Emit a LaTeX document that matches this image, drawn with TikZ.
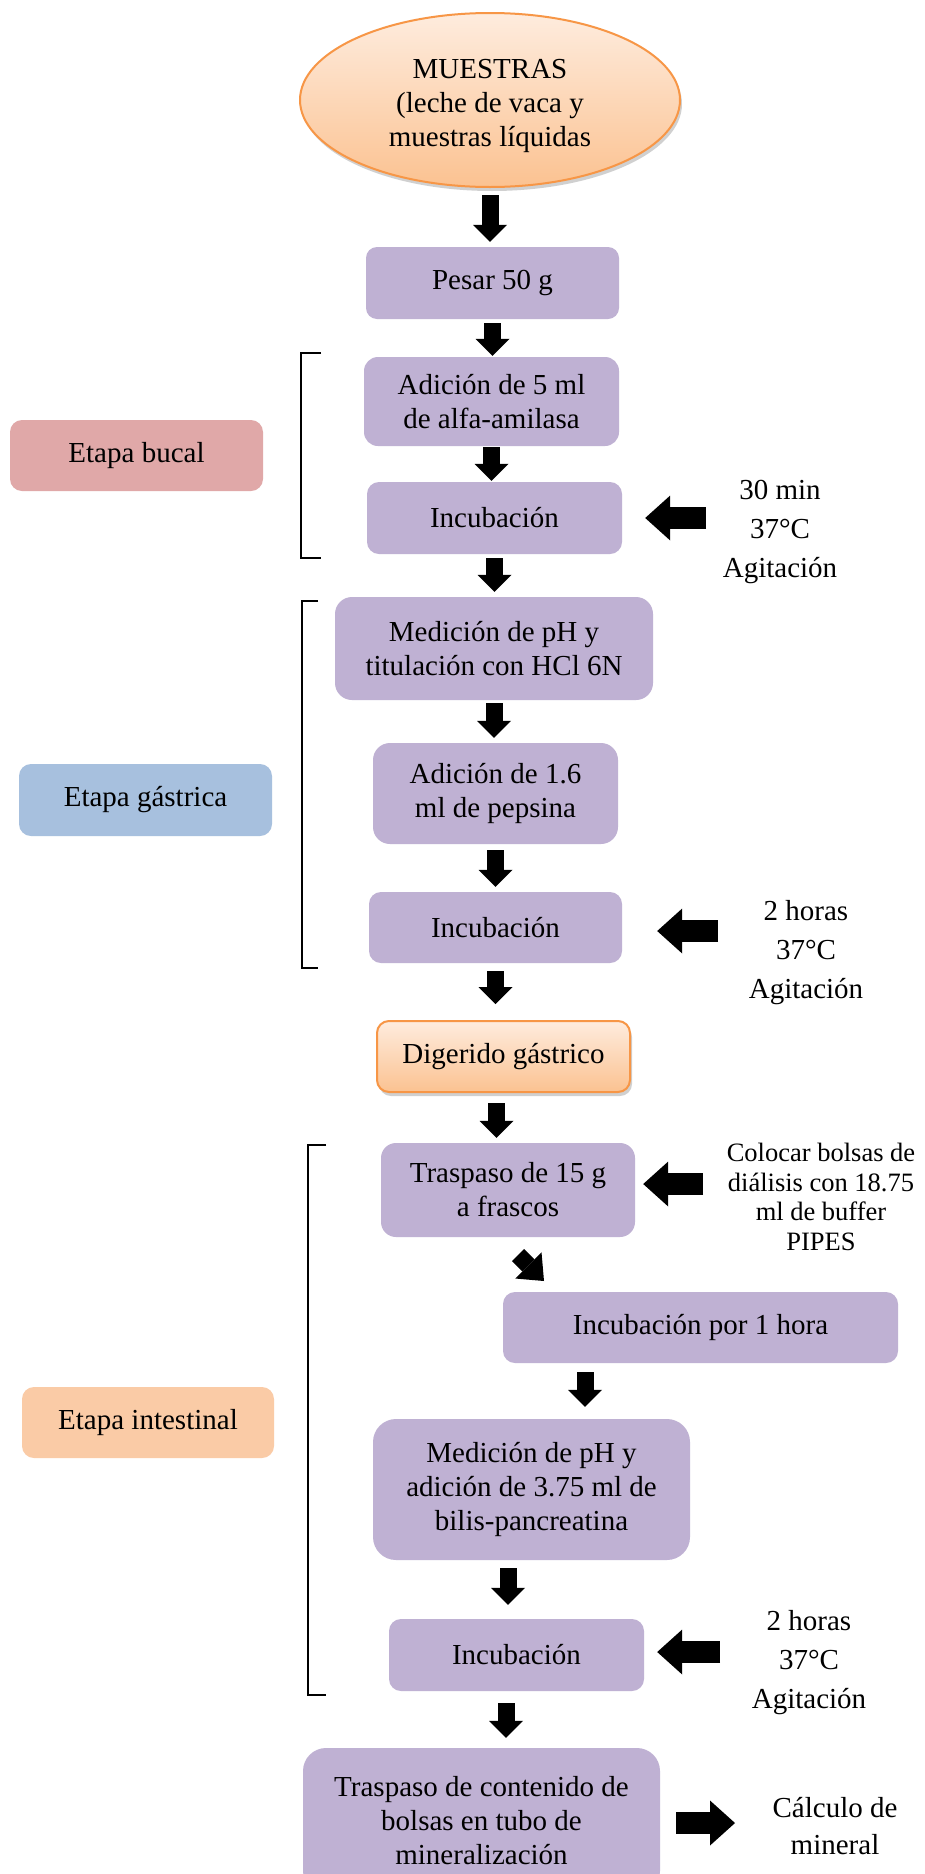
\documentclass[tikz,border=0pt]{standalone}
\usepackage{fontspec}
\setmainfont{Liberation Serif}
\usetikzlibrary{shapes.geometric,arrows.meta,shadows,calc}
\definecolor{lav}{RGB}{191,177,211}
\definecolor{bucal}{RGB}{224,168,168}
\definecolor{gastr}{RGB}{167,192,222}
\definecolor{intes}{RGB}{250,203,166}
\definecolor{orbord}{RGB}{247,150,70}
\definecolor{ortop}{RGB}{254,236,222}
\definecolor{orbot}{RGB}{251,194,145}
\newcommand\mainfs{\fontsize{29}{34}\selectfont}
\tikzset{
  proc/.style={fill=lav, draw=none, align=center, inner sep=0pt, font=\mainfs},
  etapa/.style={draw=none, align=center, inner sep=0pt, font=\mainfs,
    minimum width=253pt, minimum height=71pt, rounded corners=12pt},
  orshade/.style={draw=orbord, line width=2pt, top color=ortop, bottom color=orbot,
    drop shadow={shadow xshift=2pt, shadow yshift=-4pt, opacity=0.3, fill=black!60}},
  side/.style={align=center, inner sep=0pt, font=\fontsize{29}{39}\selectfont},
  sidesm/.style={align=center, inner sep=0pt, font=\fontsize{26.5}{29.5}\selectfont},
  dn/.style={line width=17pt, -{Triangle[length=17pt,width=34pt,line width=0pt]}},
  lf/.style={line width=22pt, -{Triangle[length=25pt,width=45pt,line width=0pt]}},
  dg/.style={line width=17pt, -{Triangle[length=22pt,width=37pt,line width=0pt]}},
  brk/.style={line width=2.2pt, black}
}
\begin{document}
\begin{tikzpicture}[x=1pt,y=-1pt]
\clip (0,0) rectangle (924,1874);
\fill[white] (0,0) rectangle (924,1874);

% main column
\node[ellipse, orshade, minimum width=380pt, minimum height=174pt, inner sep=0pt] (mues) at (490,100) {};
\node[align=center, inner sep=0pt, font=\mainfs] (muestxt) at (490,106) {MUESTRAS\\(leche de vaca y\\muestras líquidas};
\node[proc, minimum width=253pt, minimum height=72pt, rounded corners=11pt] (pesar) at (492.5,283) {Pesar 50 g};
\node[proc, minimum width=255pt, minimum height=89pt, rounded corners=14pt] (adic5) at (491.5,401.5) {Adición de 5 ml\\de alfa-amilasa};
\node[proc, minimum width=255pt, minimum height=72pt, rounded corners=12pt] (inc1) at (494.5,518) {Incubación};
\node[proc, minimum width=318pt, minimum height=103pt, rounded corners=17pt] (medph) at (494,648.5) {Medición de pH y\\titulación con HCl 6N};
\node[proc, minimum width=245pt, minimum height=101pt, rounded corners=17pt] (adic16) at (495.5,793.5) {Adición de 1.6\\ml de pepsina};
\node[proc, minimum width=253pt, minimum height=71pt, rounded corners=12pt] (inc2) at (495.5,927.5) {Incubación};
\node[orshade, align=center, inner sep=0pt, font=\mainfs, minimum width=253pt, minimum height=71pt,
  rounded corners=12pt] (dig) at (503.5,1056.5) {Digerido gástrico};
\node[proc, minimum width=254pt, minimum height=94pt, rounded corners=15pt] (tr15) at (508,1190) {Traspaso de 15 g\\a frascos};
\node[proc, minimum width=395pt, minimum height=71pt, rounded corners=12pt] (inc1h) at (700.5,1327.5) {Incubación por 1 hora};
\node[proc, minimum width=317pt, minimum height=141pt, rounded corners=23pt] (med375) at (531.5,1489.5) {Medición de pH y\\adición de 3.75 ml de\\bilis-pancreatina};
\node[proc, minimum width=255pt, minimum height=72pt, rounded corners=12pt] (inc3) at (516.5,1655) {Incubación};
\node[proc, minimum width=357pt, minimum height=146pt, rounded corners=23pt] (trb) at (481.5,1821) {Traspaso de contenido de\\bolsas en tubo de\\mineralización};

% stage labels
\node[etapa, fill=bucal] (eb) at (136.5,455.5) {Etapa bucal};
\node[etapa, fill=gastr, minimum height=72pt] (eg) at (145.5,800) {Etapa gástrica};
\node[etapa, fill=intes, minimum width=252pt] (ei) at (148,1422.5) {Etapa intestinal};

% side texts
\node[side] (t1) at (780,532) {30 min\\37°C\\Agitación};
\node[side] (t2) at (806,953) {2 horas\\37°C\\Agitación};
\node[sidesm] (t3) at (821,1197) {Colocar bolsas de\\diálisis con 18.75\\ml de buffer\\PIPES};
\node[side] (t4) at (809,1663) {2 horas\\37°C\\Agitación};
\node[align=center, inner sep=0pt, font=\fontsize{29}{37}\selectfont] (t5) at (835,1826) {Cálculo de\\mineral};

% brackets
\draw[brk] (321,353) -- (301,353) -- (301,558) -- (321,558);
\draw[brk] (318,601) -- (302,601) -- (302,968) -- (318,968);
\draw[brk] (326,1145) -- (308,1145) -- (308,1695) -- (326,1695);

% vertical arrows
\draw[dn, shorten <=7pt, shorten >=5pt] (mues.south) -- (pesar.north -| mues.south);
\draw[dn, shorten <=4pt, shorten >=1pt] (pesar.south) -- (adic5.north -| pesar.south);
\draw[dn, shorten <=1pt, shorten >=1pt] (adic5.south) -- (inc1.north -| adic5.south);
\draw[dn, shorten <=4pt, shorten >=5pt] (inc1.south) -- (medph.north -| inc1.south);
\draw[dn, shorten <=3pt, shorten >=5pt] (medph.south) -- (adic16.north -| medph.south);
\draw[dn, shorten <=6pt, shorten >=5pt] (adic16.south) -- (inc2.north -| adic16.south);
\draw[dn, shorten <=8pt, shorten >=16pt] (inc2.south) -- (dig.north -| inc2.south);
\draw[dn, shorten <=10pt, shorten >=5pt] ([xshift=-7pt]dig.south) -- ([xshift=-7pt]dig.south |- tr15.north);
\coordinate (d1) at (518,1255);
\coordinate (d2) at (544,1281);
\draw[dg] (d1) -- (d2);
\coordinate (a9) at (585,0);
\draw[dn, shorten <=9pt, shorten >=12pt] (inc1h.south -| a9) -- (med375.north -| a9);
\coordinate (a10) at (508,0);
\draw[dn, shorten <=8pt, shorten >=14pt] (med375.south -| a10) -- (inc3.north -| a10);
\coordinate (a11) at (506,0);
\draw[dn, shorten <=12pt, shorten >=10pt] (inc3.south -| a11) -- (trb.north -| a11);

% horizontal arrows
\coordinate (l1) at (706,518);
\draw[lf, shorten >=23pt] (l1) -- (inc1.east |- l1);
\coordinate (l2) at (718,931);
\draw[lf, shorten >=35pt] (l2) -- (inc2.east |- l2);
\coordinate (l3) at (703,1184);
\draw[lf, shorten >=8pt] (l3) -- (tr15.east |- l3);
\coordinate (l4) at (720,1652);
\draw[lf, shorten >=13pt] (l4) -- (inc3.east |- l4);
\coordinate (r1) at (735,1823);
\draw[lf, shorten <=16pt] (trb.east |- r1) -- (r1);
\end{tikzpicture}
\end{document}
